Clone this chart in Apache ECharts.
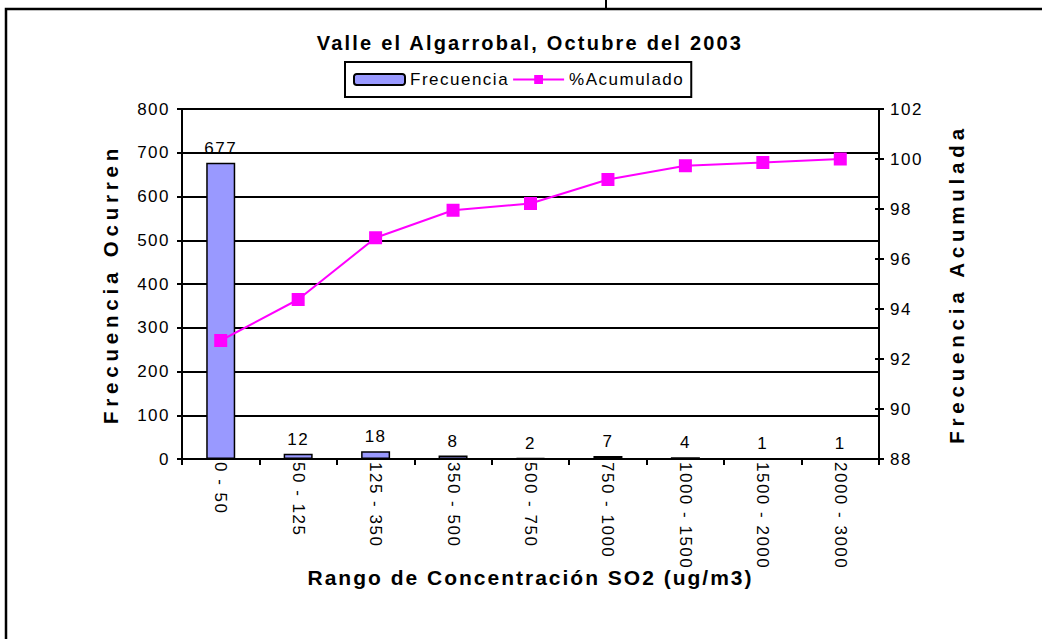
<!DOCTYPE html>
<html>
<head>
    <meta charset="utf-8">
    <style>
        html, body { margin: 0; padding: 0; background: #fff; }
        #main { width: 1042px; height: 639px; }
        /* espaciado de letras como en el grafico original */
        #main svg text { letter-spacing: 1.5px; }
        #main svg text[style*="20px"] { letter-spacing: 2.2px; }
        #main svg text[style*="21px"] { letter-spacing: 2px; }
        #main svg text[style*="20.5px"] { letter-spacing: 4.8px; }
    </style>
    <script src="https://cdn.jsdelivr.net/npm/echarts/dist/echarts.min.js"></script>
</head>
<body>
    <div id="main"></div>
    <script type="text/javascript">
        // datos
        var rangos = ['0 - 50', '50 - 125', '125 - 350', '350 - 500', '500 - 750',
                      '750 - 1000', '1000 - 1500', '1500 - 2000', '2000 - 3000'];
        var frecuencia = [677, 12, 18, 8, 2, 7, 4, 1, 1];
        var acumulado = [92.74, 94.38, 96.85, 97.95, 98.22, 99.18, 99.73, 99.86, 100];

        var fuente = 'Arial, "Liberation Sans", sans-serif';
        var negro = '#000';

        var myChart = echarts.init(document.getElementById('main'), null, { renderer: 'svg' });

        var option = {
            animation: false,
            backgroundColor: '#fff',
            title: {
                text: 'Valle el Algarrobal, Octubre del 2003',
                left: 530,
                top: 33,
                padding: 0,
                textAlign: 'center',
                textStyle: { fontFamily: fuente, fontSize: 20, fontWeight: 'bold', color: negro }
            },
            legend: {
                data: ['Frecuencia', '%Acumulado'],
                left: 345,
                top: 62,
                padding: [9, 22, 9, 8],
                itemGap: 18,
                itemWidth: 51,
                itemHeight: 11,
                borderColor: negro,
                borderWidth: 2,
                textStyle: { fontFamily: fuente, fontSize: 17, color: negro }
            },
            graphic: [{
                type: 'rect',
                shape: { x: 6, y: 9, width: 1100, height: 700 },
                style: { fill: 'none', stroke: negro, lineWidth: 2.5 },
                silent: true
            }, {
                type: 'line',
                shape: { x1: 606, y1: 0, x2: 606, y2: 9 },
                style: { stroke: negro, lineWidth: 2 },
                silent: true
            }],
            grid: {
                left: 182,
                right: 163,
                top: 109,
                bottom: 180,
                outerBoundsMode: 'none'
            },
            xAxis: {
                type: 'category',
                data: rangos,
                name: 'Rango de Concentración SO2 (ug/m3)',
                nameLocation: 'middle',
                nameGap: 108,
                nameMoveOverlap: false,
                nameTextStyle: { fontFamily: fuente, fontSize: 21, fontWeight: 'bold', color: negro },
                axisLine: { show: true, lineStyle: { color: negro, width: 2 } },
                axisTick: { show: true, length: 6, lineStyle: { color: negro, width: 2 } },
                axisLabel: {
                    interval: 0,
                    rotate: -90,
                    margin: 3,
                    fontFamily: fuente,
                    fontSize: 17,
                    color: negro
                },
                splitLine: { show: false }
            },
            yAxis: [{
                type: 'value',
                min: 0,
                max: 800,
                interval: 100,
                position: 'left',
                name: 'Frecuencia Ocurren',
                nameLocation: 'middle',
                nameGap: 61,
                nameMoveOverlap: false,
                nameTextStyle: { fontFamily: fuente, fontSize: 20.5, fontWeight: 'bold', color: negro },
                axisLine: { show: true, lineStyle: { color: negro, width: 2 } },
                axisTick: { show: true, length: 5, lineStyle: { color: negro, width: 2 } },
                axisLabel: { margin: 12, fontFamily: fuente, fontSize: 17, color: negro },
                splitLine: { show: true, lineStyle: { color: negro, width: 2 } }
            }, {
                type: 'value',
                min: 88,
                max: 102,
                interval: 2,
                position: 'right',
                name: 'Frecuencia Acumulada',
                nameLocation: 'middle',
                nameGap: 67,
                nameMoveOverlap: false,
                nameTextStyle: { fontFamily: fuente, fontSize: 20.5, fontWeight: 'bold', color: negro },
                axisLine: { show: true, lineStyle: { color: negro, width: 2 } },
                axisTick: { show: true, length: 5, lineStyle: { color: negro, width: 2 } },
                axisLabel: { margin: 11, fontFamily: fuente, fontSize: 17, color: negro },
                splitLine: { show: false }
            }, {
                // solo para las marcas interiores del eje derecho
                type: 'value',
                min: 88,
                max: 102,
                interval: 2,
                position: 'right',
                axisLine: { show: false },
                axisTick: { show: true, inside: true, length: 4, lineStyle: { color: negro, width: 2 } },
                axisLabel: { show: false },
                splitLine: { show: false }
            }],
            series: [{
                name: 'Frecuencia',
                type: 'bar',
                data: frecuencia,
                yAxisIndex: 0,
                barWidth: 29,
                itemStyle: { color: '#9999FF', borderColor: negro, borderWidth: 1.5 },
                label: {
                    show: true,
                    position: 'top',
                    distance: 6,
                    fontFamily: fuente,
                    fontSize: 17,
                    color: negro
                }
            }, {
                name: '%Acumulado',
                type: 'line',
                data: acumulado,
                yAxisIndex: 1,
                symbol: 'rect',
                symbolSize: 13,
                lineStyle: { color: '#FF00FF', width: 2 },
                itemStyle: { color: '#FF00FF' }
            }]
        };

        myChart.setOption(option);
    </script>
</body>
</html>
